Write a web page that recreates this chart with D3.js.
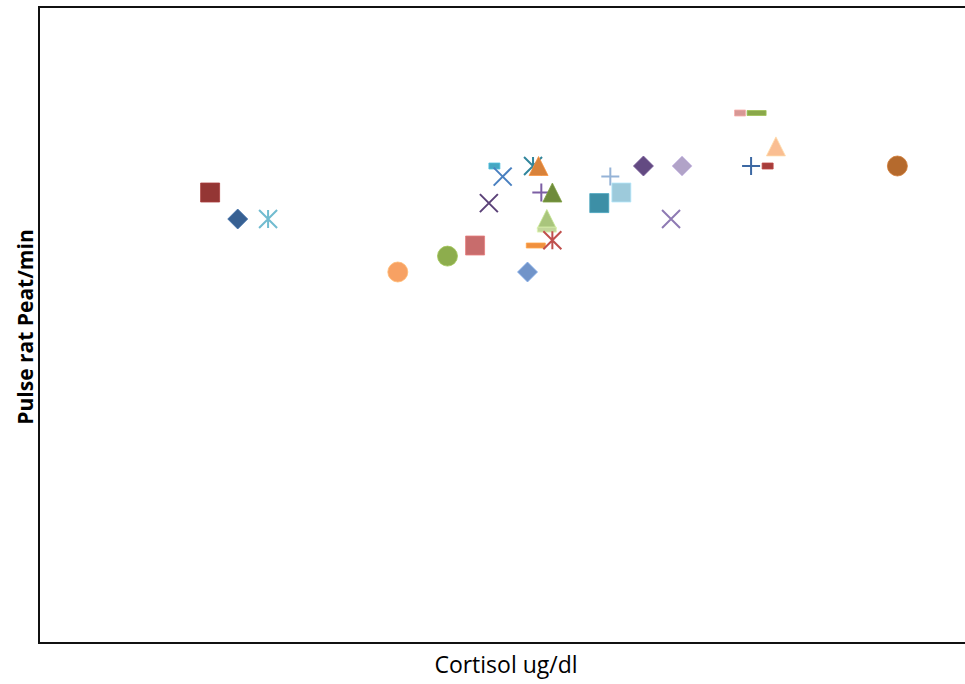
<!DOCTYPE html>
<html>
<head>
<meta charset="utf-8">
<script src="https://cdn.jsdelivr.net/npm/d3@7"></script>
<style>
  body { margin: 0; background: #fff; }
  svg { display: block; }
  .axis-title { font-family: "Open Sans", "Noto Sans", sans-serif; fill: #000; }
</style>
</head>
<body>
<div id="chart"></div>
<script>
// each point is its own series in the original workbook
const cortisol = [6.2, 7.2, 8.3, 13.0, 14.8, 15.8, 17.7, 16.5, 16.8, 16.3,
  17.9, 18.1, 18.2, 18.6, 18.4, 18.4, 18.0, 18.6, 20.7, 20.3,
  21.1, 21.9, 23.3, 22.9, 25.4, 26.0, 26.7, 25.8, 26.4, 31.1];
const pulse = [85, 80, 80, 70, 73, 75, 70, 90, 88, 83,
  90, 90, 85, 85, 80, 78, 75, 76, 88, 83,
  85, 90, 90, 80, 100, 100, 93.7, 90, 90, 90];

const xDomain = [0, 35];
const yDomain = [0, 120];
const xTitle = 'Cortisol ug/dl';
const yTitle = 'Pulse rat Peat/min';

// marker look per series
const markerShapes = ['square', 'diamond', 'asterisk', 'circle', 'circle', 'square', 'diamond', 'dash', 'x', 'x',
  'asterisk', 'triangle', 'plus', 'triangle', 'triangle', 'longdash', 'longdash', 'asterisk', 'plus', 'square',
  'square', 'diamond', 'diamond', 'x', 'dash', 'longdash', 'triangle', 'plus', 'dash', 'circle'];
const markerColors = ['#943634', '#376092', '#71BCD0', '#F7A163', '#8DAD4D', '#C86C6C', '#7194C9', '#45A7C2', '#4A80C0', '#5B4278',
  '#31859C', '#D8823A', '#7C5EA4', '#6E8B3A', '#A9C57C', '#C2D69A', '#F0903F', '#C0504D', '#95B3D7', '#3D8FA6',
  '#9DCADB', '#634A82', '#B1A3C8', '#8E7AB3', '#D79895', '#8AA84A', '#FABE92', '#3C68A3', '#A63D3B', '#B56A2D'];

const width = 965;
const height = 684;
const plot = { left: 39, top: 7, bottom: 643, right: 1005 };

const svg = d3.select('#chart')
  .append('svg')
  .attr('width', width)
  .attr('height', height);

const xScale = d3.scaleLinear().domain(xDomain).range([plot.left, plot.right]);
const yScale = d3.scaleLinear().domain(yDomain).range([plot.bottom, plot.top]);

// plot frame (no ticks in the original)
svg.append('rect')
  .attr('x', plot.left)
  .attr('y', plot.top)
  .attr('width', plot.right - plot.left)
  .attr('height', plot.bottom - plot.top)
  .attr('fill', 'none')
  .attr('stroke', '#111')
  .attr('stroke-width', 2);

const points = cortisol.map((c, i) => ({
  x: c, y: pulse[i], shape: markerShapes[i], color: markerColors[i]
}));

function markerPath(shape) {
  const p = d3.path();
  if (shape === 'square') {
    p.rect(-9.5, -9.5, 19, 19);
  } else if (shape === 'diamond') {
    p.moveTo(0, -10); p.lineTo(10, 0); p.lineTo(0, 10); p.lineTo(-10, 0); p.closePath();
  } else if (shape === 'triangle') {
    p.moveTo(0, -9.5); p.lineTo(9.5, 9.5); p.lineTo(-9.5, 9.5); p.closePath();
  } else if (shape === 'circle') {
    p.arc(0, 0, 10, 0, 2 * Math.PI);
  } else if (shape === 'dash') {
    p.rect(-5.5, -3, 11, 6);
  } else if (shape === 'longdash') {
    p.rect(-9.5, -2.5, 19, 5);
  } else {
    const r = 9;
    if (shape === 'x' || shape === 'asterisk') {
      p.moveTo(-r, -r); p.lineTo(r, r);
      p.moveTo(-r, r); p.lineTo(r, -r);
    }
    if (shape === 'plus') {
      p.moveTo(-r, 0); p.lineTo(r, 0);
    }
    if (shape === 'plus' || shape === 'asterisk') {
      p.moveTo(0, -r); p.lineTo(0, r);
    }
  }
  return p.toString();
}

const lineShapes = ['x', 'plus', 'asterisk'];

svg.append('g')
  .attr('class', 'markers')
  .selectAll('path')
  .data(points)
  .join('path')
  .attr('transform', d => `translate(${xScale(d.x)},${yScale(d.y)})`)
  .attr('d', d => markerPath(d.shape))
  .attr('fill', d => lineShapes.includes(d.shape) ? 'none' : d.color)
  .attr('stroke', d => lineShapes.includes(d.shape) ? d.color : d3.color(d.color).brighter(0.4))
  .attr('stroke-width', d => lineShapes.includes(d.shape) ? 2 : 0.8);

// axis titles
svg.append('text')
  .attr('class', 'axis-title')
  .attr('x', 506)
  .attr('y', 673)
  .attr('text-anchor', 'middle')
  .style('font-size', '23px')
  .text(xTitle);

svg.append('text')
  .attr('class', 'axis-title')
  .attr('transform', 'translate(33,327) rotate(-90)')
  .attr('text-anchor', 'middle')
  .style('font-size', '21px')
  .style('font-weight', 'bold')
  .text(yTitle);
</script>
</body>
</html>
